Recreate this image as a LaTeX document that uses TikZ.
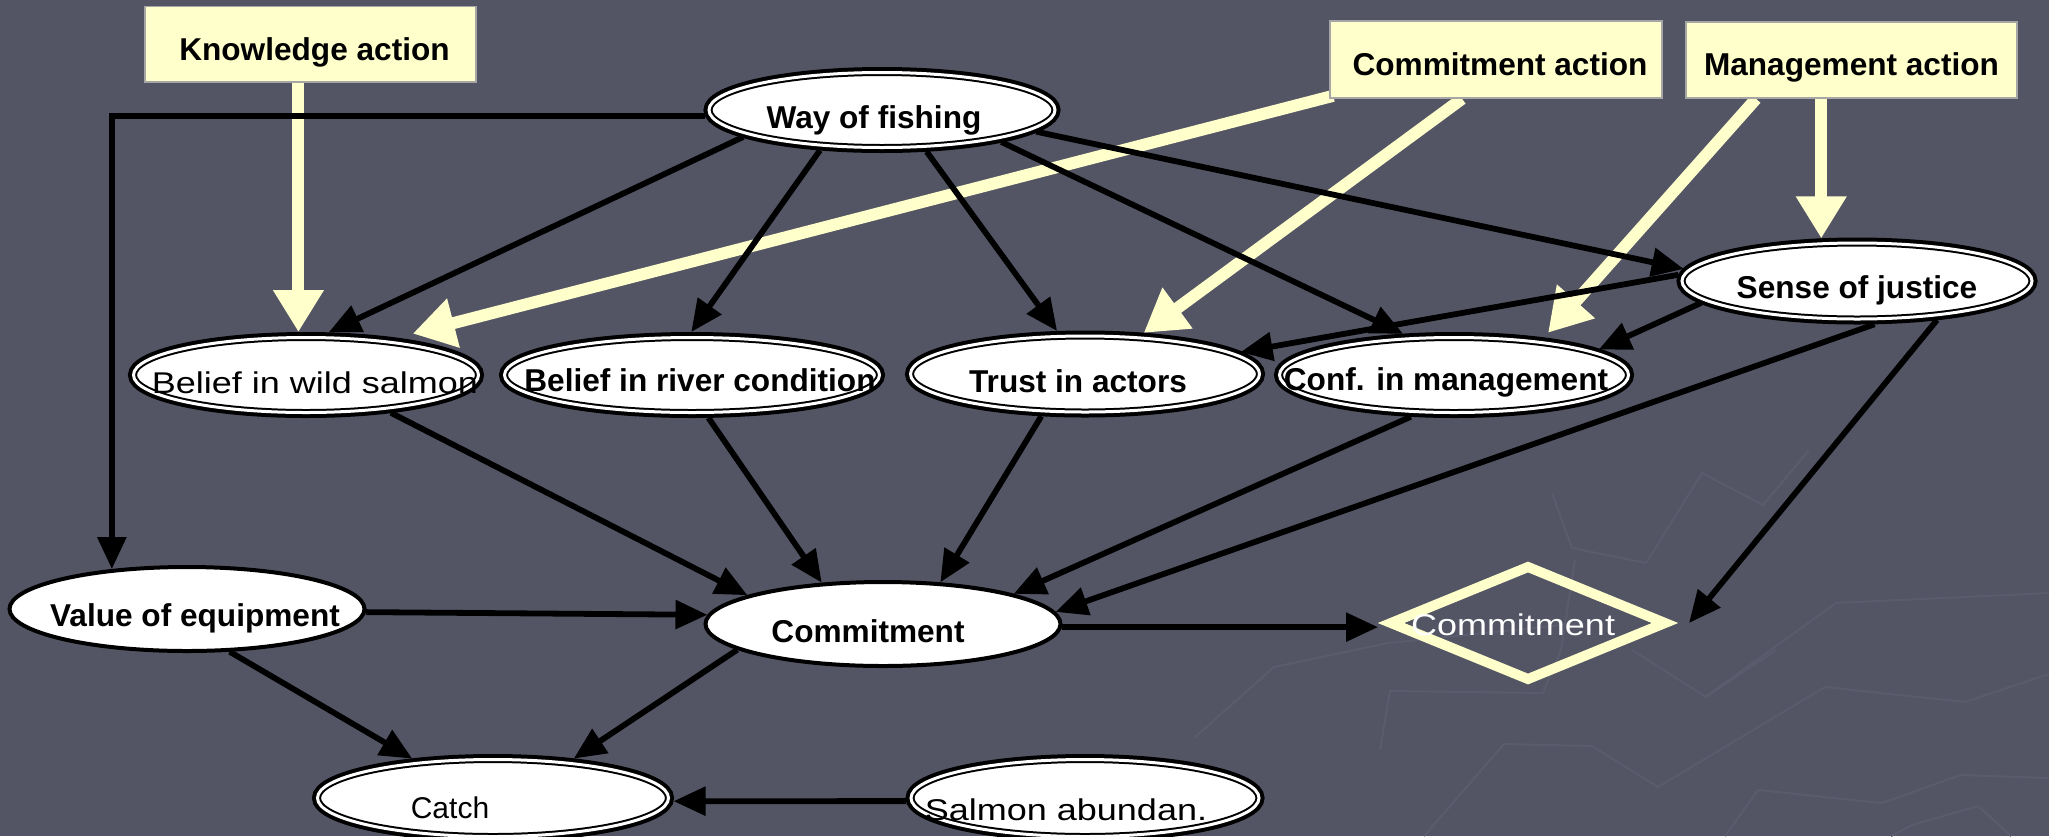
\documentclass[tikz,border=0pt]{standalone}
\usepackage{fontspec}
\setmainfont{Liberation Sans}
\newfontfamily\widesans[FakeStretch=1.2]{Liberation Sans}
\usetikzlibrary{arrows.meta,shapes.geometric}

\definecolor{slate}{HTML}{535565}
\definecolor{texline}{HTML}{5A5C6D}
\definecolor{paleyellow}{HTML}{FFFFCC}

\pgfdeclarelayer{bg}
\pgfdeclarelayer{links}
\pgfsetlayers{bg,links,main}

% label placed with an offset (dx, baseline drop) from the node centre
\newcommand\lbl[3]{\makebox[0pt][l]{\hspace*{#1}\raisebox{-#2}[0pt][0pt]{\makebox[0pt]{#3}}}}

\tikzset{
  boldtxt/.style={font=\bfseries\fontsize{15.8}{18}\selectfont},
  thintxt/.style={font=\widesans\fontsize{15}{18}\selectfont},
  % thick outer ring, white gap, thin inner ring
  dbl/.style={ellipse, fill=white, preaction={draw=black, line width=5.5pt},
    draw=black, line width=1pt, double=white, double distance=1.5pt,
    inner sep=0pt, outer sep=2.75pt},
  sgl/.style={ellipse, draw=black, fill=white, line width=2pt,
    inner sep=0pt, outer sep=1pt},
  actbox/.style={rectangle, draw=gray!70, fill=paleyellow, line width=0.8pt,
    inner sep=0pt, boldtxt},
  barr/.style={draw=black, line width=2.9pt, -{Triangle[length=16pt,width=14pt]}},
  yarr/.style={draw=paleyellow, line width=6pt, -{Triangle[length=21pt,width=24pt]}},
  texture/.style={draw=texline, line width=1pt},
}

\begin{document}
\begin{tikzpicture}[x=0.5pt,y=-0.5pt]
\useasboundingbox (0,0) rectangle (2049,836);

\begin{pgfonlayer}{bg}
  \fill[slate] (0,0) rectangle (2049,836);
  \draw[texture] (1380,750) -- (1390,691) -- (1543,693) -- (1561,650) -- (1575,560);
  \draw[texture] (1632,650) -- (1706,697) -- (1776,650);
  \draw[texture] (1424,836) -- (1504,744) -- (1592,746) -- (1658,787) -- (1825,687) -- (1965,702) -- (2049,674);
  \draw[texture] (1725,836) -- (1758,790) -- (1882,803) -- (1961,775) -- (2049,778);
  \draw[texture] (1891,836) -- (1912,825) -- (1978,806) -- (2011,836);
  \draw[texture] (1552,493) -- (1572,548) -- (1646,563) -- (1702,473) -- (1763,505) -- (1809,450);
  \draw[texture] (1194,738) -- (1274,667) -- (1388,643) -- (1582,623);
  \draw[texture] (1705,697) -- (1836,603) -- (2049,593);
\end{pgfonlayer}

% action boxes
\node[actbox, minimum width=165.5pt, minimum height=37.75pt] (ka) at (310.5,44.25) {\lbl{2pt}{8pt}{Knowledge action}};
\node[actbox, minimum width=166pt, minimum height=38.5pt] (ca) at (1496,59.5) {\lbl{2pt}{7.75pt}{Commitment action}};
\node[actbox, minimum width=165.5pt, minimum height=38pt] (ma) at (1851.5,60) {\lbl{0pt}{7.5pt}{Management action}};

% variables
\node[dbl, boldtxt, minimum width=173pt, minimum height=37.5pt] (way) at (882,110) {\lbl{-4pt}{9pt}{Way of fishing}};
\node[dbl, thintxt, minimum width=172.5pt, minimum height=37.5pt] (bws) at (306,375) {\lbl{4.5pt}{9pt}{Belief in wild salmon}};
\node[dbl, boldtxt, minimum width=187.5pt, minimum height=37.5pt] (brc) at (692,375) {\lbl{4pt}{8pt}{Belief in river condition}};
\node[dbl, boldtxt, minimum width=174.5pt, minimum height=38pt] (trust) at (1085,374) {\lbl{-3.5pt}{9pt}{Trust in actors}};
\node[dbl, boldtxt, minimum width=174.5pt, minimum height=37.5pt] (conf) at (1454,375) {\lbl{-4pt}{7.5pt}{Conf. in management}};
\node[dbl, boldtxt, minimum width=175pt, minimum height=38pt] (soj) at (1857,281) {\lbl{0pt}{8.5pt}{Sense of justice}};
\node[sgl, boldtxt, minimum width=177.5pt, minimum height=42pt] (veq) at (187,609) {\lbl{4pt}{8.5pt}{Value of equipment}};
\node[sgl, boldtxt, minimum width=177.5pt, minimum height=42pt] (com) at (883,624) {\lbl{-7.5pt}{9pt}{Commitment}};
\node[dbl, font=\fontsize{15}{18}\selectfont, minimum width=175.5pt, minimum height=38.5pt] (catch) at (493,798) {\lbl{-21.5pt}{10pt}{Catch}};
\node[dbl, thintxt, minimum width=174pt, minimum height=38.5pt] (salmon) at (1085,798) {\lbl{-9.5pt}{11pt}{Salmon abundan.}};
\node[diamond, draw=paleyellow, line width=5pt, line join=miter, aspect=2.45,
      minimum width=137pt, minimum height=56pt, inner sep=0pt, outer sep=0pt,
      thintxt, text=white] (dia) at (1528,623) {\lbl{-7.5pt}{6pt}{Commitment}};

\begin{pgfonlayer}{links}
  % action links
  \draw[yarr] (ka.south -| bws.100) -- (bws.100);
  \draw[yarr] ([xshift=2pt,yshift=1.5pt]ca.south west) -- ([shift={(12,-5)}]bws.21);
  \draw[yarr] ([xshift=-17pt]ca.south) -- (trust.35);
  \draw[yarr] ([xshift=-47.75pt]ma.south) -- ([shift={(12,-4)}]conf.25);
  \draw[yarr] (ma.south -| soj.130) -- (soj.130);

  % causal links
  \draw[barr] (way.182) -| (veq.152);
  \draw[barr] (way.191) -- (bws.62);
  \draw[barr] (way.213) -- (brc.91);
  \draw[barr] (way.317) -- (trust.123);
  \draw[barr] (way.345) -- (conf.141);
  \draw[barr] (way.352) -- (soj.176);
  \draw[barr] (soj.178) -- (trust.8);
  \draw[barr] (soj.188) -- (conf.10);
  \draw[barr] (soj.292) -- (com.4);
  \draw[barr] (soj.334) -- ([xshift=12pt]dia.east);
  \draw[barr] (bws.336) -- (com.168);
  \draw[barr] (brc.291) -- (com.146);
  \draw[barr] (trust.224) -- (com.36);
  \draw[barr] (conf.224) -- (com.13);
  \draw[barr] (veq.-1) -- (com.177);
  \draw[barr] (veq.315) -- (catch.154);
  \draw[barr] (com.190) -- (catch.26);
  \draw[barr] (salmon.181) -- (catch.359);
  \draw[barr, shorten >=6.5pt] (com.-1.5) -- (com.-1.5 -| dia.west);
\end{pgfonlayer}
\end{tikzpicture}
\end{document}
